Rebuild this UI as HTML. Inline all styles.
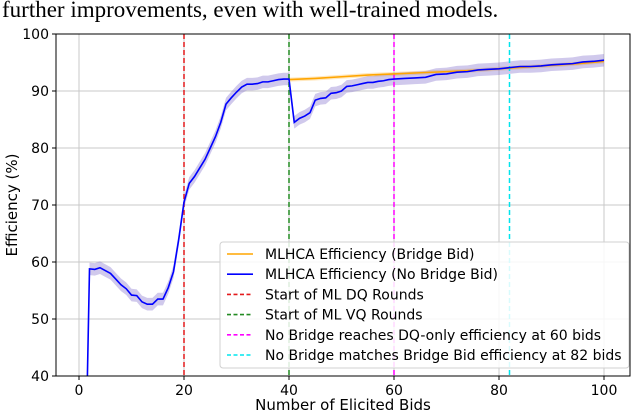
<!DOCTYPE html>
<html><head><meta charset="utf-8"><style>
html,body{margin:0;padding:0;background:#fff;}
svg{display:block;font-family:"DejaVu Sans","Liberation Sans",sans-serif;}
</style></head><body>
<svg id="chart" width="632" height="416" xmlns="http://www.w3.org/2000/svg">
<text x="2" y="17" font-family="Liberation Serif, serif" font-size="23" fill="#000">further improvements, even with well-trained models.</text>
<g id="grid"></g><g id="bands"></g><g id="vlines"></g><g id="lines"></g><g id="axes"></g><g id="legend"></g>
</svg>
<script>
const noBridgeX = [1.6,2,3,4,5,6,7,8,9,10,11,12,13,14,15,16,17,18,19,20,21,22,23,24,25,26,27,28,29,30,31,32,33,34,35,36,37,38,39,40,41,42,43,44,45,46,47,48,49,50,51,52,53,54,55,56,57,58,59,60,62,64,66,68,70,72,74,76,78,80,82,84,86,88,90,92,94,96,98,100];
const noBridgeY = [40,58.8,58.7,59,58.5,58,57,56,55.3,54.2,54.1,53,52.6,52.6,53.5,53.5,55.5,58.3,64,70.5,73.8,75,76.5,78,80,82,84.5,87.7,88.8,89.8,90.7,91.2,91.2,91.3,91.6,91.6,91.8,92,92.1,92.1,84.5,85.2,85.6,86.2,88.4,88.7,88.8,89.6,89.7,90,90.8,90.9,91.1,91.3,91.5,91.5,91.7,91.8,92,92.1,92.2,92.3,92.4,92.9,93,93.3,93.4,93.7,93.8,93.9,94.1,94.3,94.3,94.4,94.6,94.7,94.8,95.1,95.2,95.4];
const bridgeX = [40,45,50,55,60,65,70,75,80,85,90,95,100];
const bridgeY = [92,92.2,92.5,92.8,93.0,93.2,93.4,93.6,93.9,94.2,94.5,94.8,95.2];
const vLineX = [20,40,60,82];
const vLineColors = ["#e41a1c","#228b22","#ff00ff","#00e5ee"];
const xTicks = [0,20,40,60,80,100];
const yTicks = [40,50,60,70,80,90,100];
const legendLabels = ["MLHCA Efficiency (Bridge Bid)","MLHCA Efficiency (No Bridge Bid)","Start of ML DQ Rounds","Start of ML VQ Rounds","No Bridge reaches DQ-only efficiency at 60 bids","No Bridge matches Bridge Bid efficiency at 82 bids"];

const L=56,R=630,T=34,B=376;
const xs=v=>79+(v)*5.25;
const ys=v=>B-(v-40)*(B-T)/60;
const NS="http://www.w3.org/2000/svg";
function mk(tag,attrs,parent){const e=document.createElementNS(NS,tag);for(const k in attrs)e.setAttribute(k,attrs[k]);parent.appendChild(e);return e;}
const grid=document.getElementById('grid'),bands=document.getElementById('bands'),vl=document.getElementById('vlines'),ln=document.getElementById('lines'),ax=document.getElementById('axes'),lg=document.getElementById('legend');

xTicks.forEach(t=>{const g=mk('line',{x1:xs(t),x2:xs(t),y1:T,y2:B,stroke:'#c8c8c8','stroke-width':1},grid);

const tk=mk('line',{x1:xs(t),x2:xs(t),y1:B,y2:B+4,stroke:'#000'},ax);
const tx=mk('text',{x:xs(t),y:B+19,'text-anchor':'middle','font-size':14},ax);tx.textContent=t;
});
yTicks.forEach(t=>{const g=mk('line',{x1:L,x2:R,y1:ys(t),y2:ys(t),stroke:'#c8c8c8','stroke-width':1},grid);

mk('line',{x1:L-4,x2:L,y1:ys(t),y2:ys(t),stroke:'#000'},ax);
const tx=mk('text',{x:L-7,y:ys(t)+5,'text-anchor':'end','font-size':14},ax);tx.textContent=t;
});

function band(X,Y,w,fill){let up=X.map((x,i)=>xs(x)+','+ys(Math.min(100,Y[i]+w)));let dn=X.map((x,i)=>xs(x)+','+ys(Math.max(40,Y[i]-w))).reverse();
const p=mk('polygon',{points:up.concat(dn).join(' '),fill:fill},bands);}
band(bridgeX,bridgeY,0.35,'rgba(255,165,0,0.25)');

band(noBridgeX.slice(1),noBridgeY.slice(1),1.1,'rgba(120,100,200,0.35)');


vLineX.forEach((v,i)=>{const l=mk('line',{x1:xs(v),x2:xs(v),y1:T,y2:B,stroke:vLineColors[i],'stroke-width':1.5,'stroke-dasharray':'5,3'},vl);
});

const pb=mk('polyline',{points:bridgeX.map((x,i)=>xs(x)+','+ys(bridgeY[i])).join(' '),fill:'none',stroke:'#ffa500','stroke-width':1.6},ln);

const pn=mk('polyline',{points:noBridgeX.map((x,i)=>xs(x)+','+ys(noBridgeY[i])).join(' '),fill:'none',stroke:'#0000ff','stroke-width':1.6},ln);


const fr=mk('rect',{x:L,y:T,width:R-L,height:B-T,fill:'none',stroke:'#000','stroke-width':1},ax);

const xl=mk('text',{x:(L+R)/2,y:410,'text-anchor':'middle','font-size':15},ax);xl.textContent='Number of Elicited Bids';

const yl=mk('text',{x:0,y:0,'text-anchor':'middle','font-size':15,transform:'translate(17,'+((T+B)/2)+') rotate(-90)'},ax);yl.textContent='Efficiency (%)';


const box=mk('rect',{x:220,y:242,width:409,height:126,rx:3,fill:'rgba(255,255,255,0.85)',stroke:'#d0d0d0'},lg);

const lcol=['#ffa500','#0000ff'].concat(vLineColors);
legendLabels.forEach((s,i)=>{const y=254+i*20.2;
const sw=mk('line',{x1:227,x2:253,y1:y,y2:y,stroke:lcol[i],'stroke-width':1.6,'stroke-dasharray':i<2?'none':'4,2.5'},lg);

const t=mk('text',{x:265,y:y+5,'font-size':14},lg);t.textContent=s;
});
</script>
</body></html>
